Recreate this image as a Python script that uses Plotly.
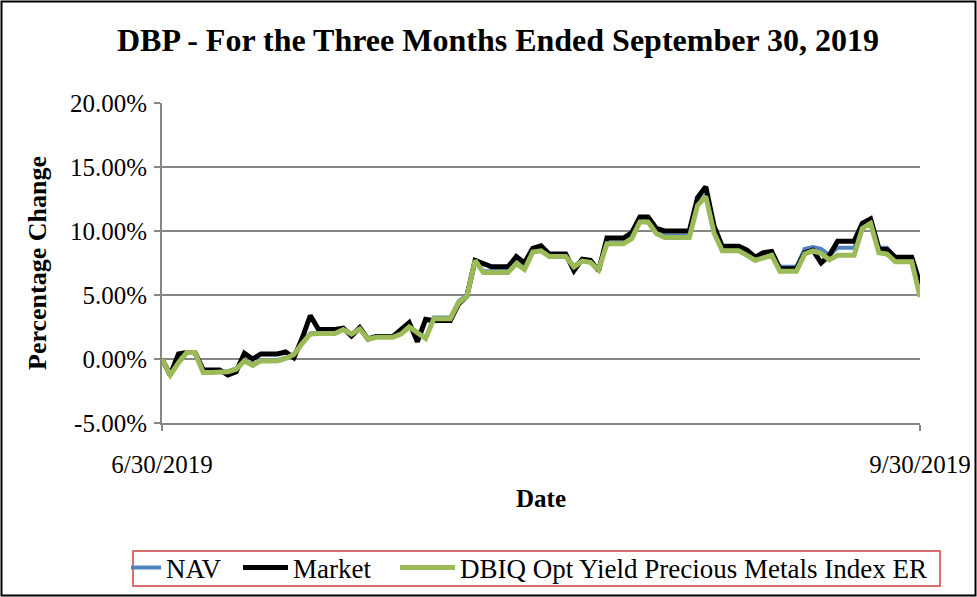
import plotly.graph_objects as go
import pandas as pd

# Calendar dates (weekends/holidays carry the prior value, as in the source data)
dates = pd.date_range("2019-06-30", "2019-09-30").strftime("%Y-%m-%d").tolist()

# Percentage change values (in %), one per calendar day 6/30 .. 9/30
nav = [0.0,
       -1.2, -0.25, 0.55, 0.55, -1.0, -1.0, -1.0, -0.95, -0.75, -0.1, -0.45, -0.1, -0.1, -0.1, 0.1,
       0.4, 1.25, 2.0, 2.05, 2.05, 2.05, 2.35, 2.0, 2.4, 1.6, 1.8, 1.8, 1.8, 2.0, 2.55, 2.1,
       1.65, 3.25, 3.25, 3.25, 4.5, 5.0, 7.8, 6.85, 6.85, 6.85, 6.85, 7.5, 7.1, 8.45, 8.55,
       8.05, 8.05, 8.05, 7.25, 7.75, 7.65, 7.0, 9.1, 9.1, 9.1, 9.5, 10.8, 10.8, 9.95, 9.65, 9.65,
       9.65, 9.65, 12.1, 12.8, 9.95, 8.55, 8.55, 8.55, 8.3, 7.8, 8.0, 8.2, 7.2, 7.2, 7.2,
       8.6, 8.75, 8.6, 8.1, 8.7, 8.7, 8.7, 10.3, 10.7, 8.7, 8.7, 7.95, 7.95, 7.95, 5.5]

market = [0.0,
          -1.25, 0.4, 0.5, 0.5, -0.85, -0.85, -0.85, -1.25, -1.0, 0.45, 0.0, 0.4, 0.4, 0.4, 0.55,
          0.1, 1.6, 3.4, 2.3, 2.3, 2.3, 2.4, 1.8, 2.45, 1.55, 1.75, 1.75, 1.75, 2.3, 2.85, 1.35,
          3.1, 3.0, 3.0, 3.0, 4.3, 4.9, 7.7, 7.5, 7.2, 7.2, 7.2, 8.0, 7.5, 8.65, 8.85,
          8.2, 8.2, 8.2, 6.9, 7.8, 7.7, 6.9, 9.45, 9.45, 9.45, 9.85, 11.1, 11.1, 10.2, 10.0, 10.0,
          10.0, 10.0, 12.6, 13.45, 10.4, 8.8, 8.8, 8.8, 8.5, 7.95, 8.3, 8.4, 7.05, 7.05, 7.05,
          8.3, 8.5, 7.5, 8.1, 9.2, 9.2, 9.2, 10.6, 10.95, 8.65, 8.55, 7.95, 7.95, 7.95, 5.9]

index_er = [0.0,
            -1.25, -0.3, 0.5, 0.5, -1.05, -1.05, -1.05, -1.0, -0.8, -0.15, -0.5, -0.15, -0.15, -0.15, 0.05,
            0.35, 1.2, 1.95, 2.0, 2.0, 2.0, 2.3, 1.95, 2.35, 1.55, 1.7, 1.7, 1.7, 1.95, 2.5, 2.05,
            1.6, 3.15, 3.15, 3.15, 4.4, 4.9, 7.7, 6.75, 6.75, 6.75, 6.75, 7.45, 7.0, 8.35, 8.45,
            8.0, 8.0, 8.0, 7.2, 7.65, 7.55, 6.95, 9.0, 9.0, 9.0, 9.4, 10.7, 10.7, 9.8, 9.5, 9.5,
            9.5, 9.5, 12.0, 12.7, 9.85, 8.45, 8.45, 8.45, 8.1, 7.7, 7.9, 8.1, 6.85, 6.85, 6.85,
            8.2, 8.45, 8.25, 7.75, 8.1, 8.1, 8.1, 10.2, 10.6, 8.3, 8.2, 7.6, 7.6, 7.6, 4.85]

y_tick_vals = [-5, 0, 5, 10, 15, 20]
y_tick_text = ["-5.00%", "0.00%", "5.00%", "10.00%", "15.00%", "20.00%"]
x_tick_vals = ["2019-06-30", "2019-09-30"]
x_tick_text = ["6/30/2019", "9/30/2019"]

FONT = "Liberation Serif, Times New Roman, serif"
GRID = "#868686"

fig = go.Figure()
fig.add_trace(go.Scatter(x=dates, y=[v / 100 for v in nav], name="NAV", mode="lines",
                         line=dict(color="#4F81BD", width=4), legend="legend"))
fig.add_trace(go.Scatter(x=dates, y=[v / 100 for v in market], name="Market", mode="lines",
                         line=dict(color="#000000", width=5), legend="legend2"))
fig.add_trace(go.Scatter(x=dates, y=[v / 100 for v in index_er],
                         name="DBIQ Opt Yield Precious Metals Index ER", mode="lines",
                         line=dict(color="#9BBB59", width=5), legend="legend3"))

W, H = 977, 597
L, R, T, B = 162, 57, 103, 174
pw, ph = W - L - R, H - T - B


def px_x(x):
    return (x - L) / pw


def px_y(y):
    return (T + ph - y) / ph


def leg(left_px, item_w):
    return dict(orientation="h", x=px_x(left_px), xanchor="left",
                y=px_y(568), yanchor="middle", borderwidth=0,
                bgcolor="rgba(0,0,0,0)",
                font=dict(family=FONT, size=27, color="black"),
                itemwidth=item_w)


fig.update_layout(
    width=W, height=H,
    margin=dict(l=L, r=R, t=T, b=B, pad=0, autoexpand=False),
    paper_bgcolor="white", plot_bgcolor="white",
    font=dict(family=FONT, color="black", size=24),
    title=dict(text="<b>DBP - For the Three Months Ended September 30, 2019</b>",
               font=dict(family=FONT, size=32, color="black"),
               xref="container", x=498 / W, xanchor="center",
               yref="container", y=1 - 40 / H, yanchor="middle"),
    xaxis=dict(type="date", range=[x_tick_vals[0], x_tick_vals[1]],
               tickmode="array", tickvals=x_tick_vals, ticktext=x_tick_text,
               showgrid=False, showline=True, linecolor=GRID, linewidth=2,
               ticks="outside", ticklen=6, tickcolor=GRID, tickwidth=2,
               tickfont=dict(family=FONT, size=25, color="black"),
               ticklabelstandoff=12,
               title=dict(text="<b>Date</b>", font=dict(family=FONT, size=25, color="black"),
                          standoff=12)),
    yaxis=dict(range=[-0.05, 0.20], tickmode="array",
               tickvals=[v / 100 for v in y_tick_vals], ticktext=y_tick_text,
               showgrid=True, gridcolor=GRID, gridwidth=2, zeroline=False,
               showline=True, linecolor=GRID, linewidth=2,
               ticks="outside", ticklen=6, tickcolor=GRID, tickwidth=2,
               tickfont=dict(family=FONT, size=25, color="black"),
               ticklabelstandoff=2,
               title=dict(text="<b>Percentage Change</b>",
                          font=dict(family=FONT, size=26, color="black"), standoff=16)),
    legend=leg(126, 30),
    legend2=leg(238, 45),
    legend3=leg(395, 55),
    showlegend=True,
)

# Legend frame (red)
fig.add_shape(type="rect", xref="paper", yref="paper",
              x0=px_x(133), x1=px_x(940), y0=px_y(586), y1=px_y(551),
              line=dict(color="#D87070", width=2), fillcolor="rgba(0,0,0,0)", layer="above")

# Outer chart border
fig.add_shape(type="rect", xref="paper", yref="paper",
              x0=px_x(1.5), x1=px_x(W - 1.5),
              y0=px_y(H - 1.5), y1=px_y(1.5),
              line=dict(color="black", width=2), fillcolor="rgba(0,0,0,0)", layer="above")

fig.write_html("out.html")
